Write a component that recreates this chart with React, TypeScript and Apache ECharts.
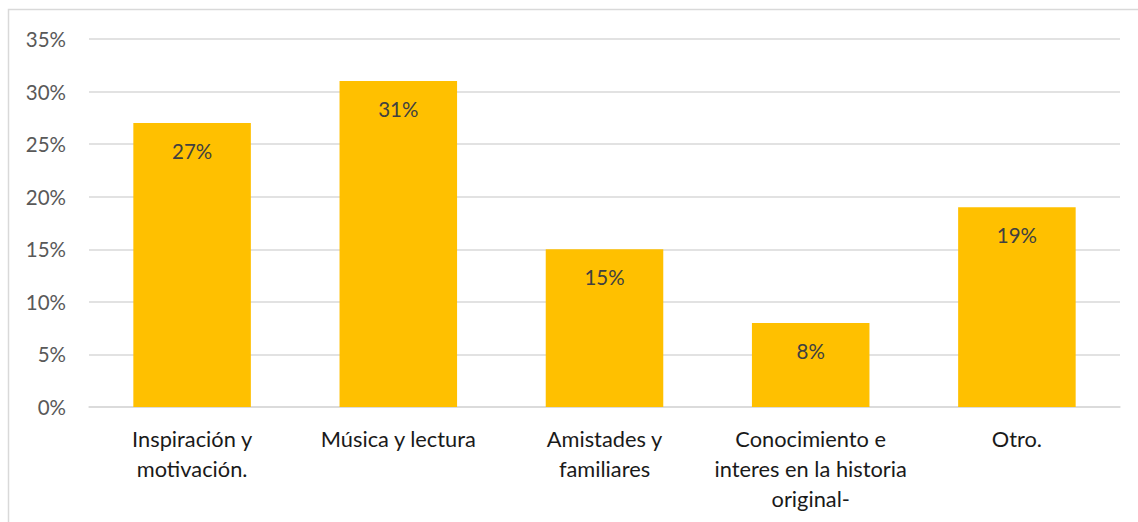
import React, { useEffect, useRef } from "react";
import * as echarts from "echarts";

const categories = [
  "Inspiración y\nmotivación.",
  "Música y lectura",
  "Amistades y\nfamiliares",
  "Conocimiento e\ninteres en la historia\noriginal-",
  "Otro.",
];
const values = [27, 31, 15, 8, 19];
const yMin = 0;
const yMax = 35;
const yStep = 5;

const FONT = "Lato, 'Open Sans', sans-serif";

export default function App() {
  const ref = useRef<HTMLDivElement>(null);
  useEffect(() => {
    if (!ref.current) return;
    const chart = echarts.init(ref.current, undefined, { renderer: "svg" });
    chart.setOption({
      animation: false,
      backgroundColor: "#ffffff",
      graphic: [
        {
          type: "rect",
          shape: { x: 8.5, y: 9.5, width: 1300, height: 700 },
          style: { fill: "none", stroke: "#d9d9d9", lineWidth: 1.5 },
          silent: true,
        },
      ],
      grid: { left: 89, right: 18, top: 39, bottom: 115, containLabel: false },
      xAxis: {
        type: "category",
        data: categories,
        axisLine: { show: true, lineStyle: { color: "#d9d9d9", width: 1.5 } },
        axisTick: { show: false },
        axisLabel: {
          interval: 0,
          color: "#1a1a1a",
          fontFamily: FONT,
          fontSize: 21.8,
          lineHeight: 30,
          margin: 16,
        },
      },
      yAxis: {
        type: "value",
        min: yMin,
        max: yMax,
        interval: yStep,
        axisLine: { show: false },
        axisTick: { show: false },
        splitLine: { lineStyle: { color: "#d9d9d9", width: 1.5 } },
        axisLabel: {
          formatter: "{value}%",
          color: "#595959",
          fontFamily: FONT,
          fontSize: 20.5,
          margin: 23,
        },
      },
      series: [
        {
          type: "bar",
          data: values,
          barWidth: "57%",
          itemStyle: { color: "#FFC000" },
          label: {
            show: true,
            position: "insideTop",
            distance: 17,
            formatter: "{c}%",
            color: "#404040",
            fontFamily: FONT,
            fontSize: 20.5,
            lineHeight: 22,
          },
        },
      ],
    });
    return () => chart.dispose();
  }, []);
  return (
    <div
      ref={ref}
      style={{ position: "absolute", left: 0, top: 0, width: 1138, height: 522 }}
    />
  );
}
